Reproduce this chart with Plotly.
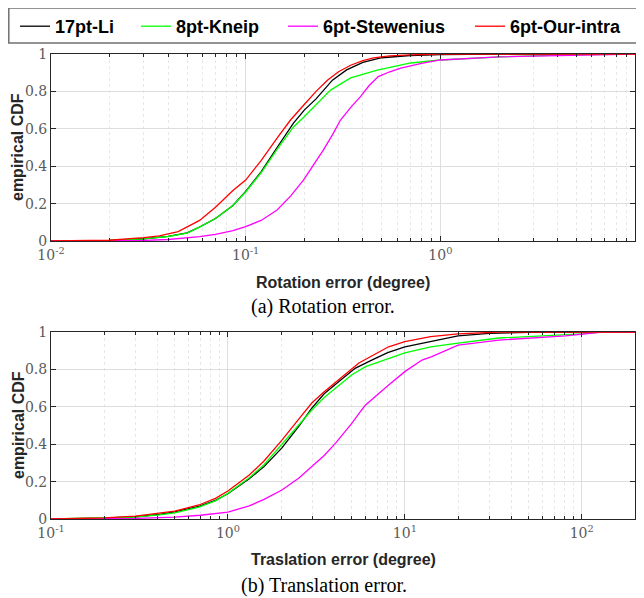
import plotly.graph_objects as go
import numpy as np

# ---------------- Data ----------------
series_names = ["17pt-Li", "8pt-Kneip", "6pt-Stewenius", "6pt-Our-intra"]
series_colors = ["#000000", "#00ff00", "#ff00ff", "#ff0000"]

# (a) Rotation error
rot_li_x = [0.01, 0.02, 0.03, 0.04, 0.05, 0.058, 0.07, 0.086, 0.1, 0.12, 0.145, 0.176, 0.2, 0.23, 0.279, 0.33, 0.4, 0.5, 0.7, 1.0, 2.0, 10]
rot_li_y = [0.0, 0.003, 0.012, 0.025, 0.043, 0.075, 0.12, 0.19, 0.265, 0.37, 0.5, 0.63, 0.70, 0.76, 0.86, 0.915, 0.955, 0.98, 0.992, 0.997, 1.0, 1.0]

rot_kneip_x = [0.01, 0.02, 0.03, 0.04, 0.05, 0.058, 0.07, 0.086, 0.1, 0.12, 0.145, 0.176, 0.198, 0.23, 0.273, 0.346, 0.474, 0.705, 1.0, 2.05, 4.5, 10]
rot_kneip_y = [0.0, 0.003, 0.011, 0.024, 0.042, 0.074, 0.12, 0.19, 0.262, 0.365, 0.49, 0.61, 0.66, 0.73, 0.807, 0.872, 0.914, 0.952, 0.968, 0.985, 0.995, 1.0]

rot_stew_x = [0.01, 0.02, 0.03, 0.04, 0.05, 0.058, 0.07, 0.086, 0.1, 0.12, 0.145, 0.17, 0.198, 0.225, 0.251, 0.28, 0.307, 0.35, 0.389, 0.43, 0.48, 0.55, 0.626, 0.8, 1.0, 2.0, 4.0, 8.0, 10]
rot_stew_y = [0.0, 0.0, 0.003, 0.008, 0.015, 0.023, 0.035, 0.055, 0.077, 0.11, 0.166, 0.24, 0.326, 0.41, 0.487, 0.57, 0.647, 0.72, 0.772, 0.83, 0.879, 0.905, 0.925, 0.95, 0.968, 0.985, 0.993, 0.998, 1.0]

rot_our_x = [0.01, 0.02, 0.03, 0.036, 0.045, 0.058, 0.07, 0.086, 0.1, 0.12, 0.145, 0.17, 0.2, 0.23, 0.263, 0.3, 0.346, 0.4, 0.454, 0.55, 0.7, 1.0, 2.0, 10]
rot_our_y = [0.0, 0.004, 0.018, 0.027, 0.05, 0.11, 0.18, 0.27, 0.326, 0.43, 0.55, 0.647, 0.73, 0.80, 0.86, 0.905, 0.94, 0.965, 0.979, 0.99, 0.995, 0.999, 1.0, 1.0]

# (b) Translation error
tr_li_x = [0.1, 0.2, 0.3, 0.41, 0.5, 0.685, 0.85, 1.0, 1.32, 1.6, 2.02, 2.52, 2.98, 3.5, 4.24, 5.26, 6.5, 8.0, 10, 15, 20, 30, 50, 100, 200]
tr_li_y = [0.0, 0.005, 0.012, 0.025, 0.038, 0.068, 0.10, 0.135, 0.215, 0.28, 0.38, 0.497, 0.593, 0.67, 0.735, 0.807, 0.85, 0.89, 0.921, 0.955, 0.979, 0.993, 0.998, 1.0, 1.0]

tr_kneip_x = [0.1, 0.2, 0.3, 0.41, 0.5, 0.685, 0.85, 1.0, 1.32, 1.6, 2.02, 2.52, 2.98, 3.5, 4.06, 5.0, 6.0, 8.0, 10, 14, 20, 34, 60, 100, 130, 200]
tr_kneip_y = [0.0, 0.004, 0.01, 0.022, 0.033, 0.063, 0.097, 0.137, 0.22, 0.29, 0.40, 0.50, 0.583, 0.65, 0.70, 0.77, 0.815, 0.855, 0.888, 0.92, 0.941, 0.968, 0.98, 0.99, 1.0, 1.0]

tr_stew_x = [0.1, 0.3, 0.5, 0.7, 1.0, 1.32, 1.6, 2.02, 2.52, 2.98, 3.5, 4.06, 5.0, 5.7, 6.0, 8.1, 10, 12.5, 14.2, 20, 34, 81, 100, 130, 200]
tr_stew_y = [0.0, 0.003, 0.01, 0.02, 0.037, 0.07, 0.105, 0.155, 0.219, 0.28, 0.34, 0.406, 0.51, 0.583, 0.61, 0.717, 0.788, 0.85, 0.868, 0.93, 0.957, 0.979, 0.99, 1.0, 1.0]

tr_our_x = [0.1, 0.2, 0.3, 0.41, 0.5, 0.685, 0.85, 1.0, 1.32, 1.6, 2.02, 2.52, 2.98, 3.5, 4.06, 5.5, 8.1, 10, 14, 20, 34, 200]
tr_our_y = [0.0, 0.006, 0.015, 0.03, 0.042, 0.075, 0.11, 0.15, 0.235, 0.31, 0.422, 0.535, 0.62, 0.68, 0.73, 0.834, 0.921, 0.948, 0.975, 0.99, 1.0, 1.0]

rot_series = [(rot_li_x, rot_li_y), (rot_kneip_x, rot_kneip_y), (rot_stew_x, rot_stew_y), (rot_our_x, rot_our_y)]
tr_series = [(tr_li_x, tr_li_y), (tr_kneip_x, tr_kneip_y), (tr_stew_x, tr_stew_y), (tr_our_x, tr_our_y)]

rot_ticks = [0.01, 0.1, 1, 10]
rot_ticktext = ["10<sup>-2</sup>", "10<sup>-1</sup>", "10<sup>0</sup>", "10<sup>1</sup>"]
tr_ticks = [0.1, 1, 10, 100]
tr_ticktext = ["10<sup>-1</sup>", "10<sup>0</sup>", "10<sup>1</sup>", "10<sup>2</sup>"]
y_ticks = [0, 0.2, 0.4, 0.6, 0.8, 1]
y_ticktext = ["0", "0.2", "0.4", "0.6", "0.8", "1"]

# ---------------- Figure ----------------
# The page body has an 8px margin, so the figure is 8px smaller on each side
OFF = 8
W, H = 644 - OFF, 598 - OFF
def PX(x):  # screen x -> paper fraction
    return (x - OFF) / W
def PY(y):  # screen y -> paper fraction
    return 1 - (y - OFF) / H

legend_ids = ["legend", "legend2", "legend3", "legend4"]
legend_text_x = [55, 176, 323, 510]

fig = go.Figure()
for i, (name, col) in enumerate(zip(series_names, series_colors)):
    x, y = rot_series[i]
    fig.add_trace(go.Scatter(x=x, y=y, mode="lines", name=name, line=dict(color=col, width=1.3),
                             xaxis="x", yaxis="y", legendgroup=name, showlegend=True,
                             legend=legend_ids[i]))
for i, (name, col) in enumerate(zip(series_names, series_colors)):
    x, y = tr_series[i]
    fig.add_trace(go.Scatter(x=x, y=y, mode="lines", name=name, line=dict(color=col, width=1.3),
                             xaxis="x2", yaxis="y2", legendgroup=name, showlegend=False))

def minor_vals(lo_exp, hi):
    vals = []
    e = lo_exp
    while 10 ** e < hi:
        for m in range(2, 10):
            v = m * 10 ** e
            if v < hi:
                vals.append(v)
        e += 1
    return vals

tick_font = dict(family="DejaVu Serif, serif", size=14, color="#5a5a5a")

def xaxis_cfg(rng, tv, tt, minors):
    return dict(type="log", range=rng, tickmode="array", tickvals=tv, ticktext=tt,
                ticks="inside", ticklen=5, tickcolor="#262626", tickwidth=1,
                showline=True, linecolor="#262626", linewidth=1, mirror="ticks",
                showgrid=True, gridcolor="#dedede", gridwidth=1, automargin=False,
                ticklabelstandoff=1,
                minor=dict(tickmode="array", tickvals=minors, ticks="inside", ticklen=3,
                           tickcolor="#262626", showgrid=True, gridcolor="#e8e8e8",
                           griddash="dot", gridwidth=1),
                tickfont=tick_font, zeroline=False, fixedrange=True)

def yaxis_cfg():
    return dict(range=[0, 1], tickmode="array", tickvals=y_ticks, ticktext=y_ticktext,
                ticks="inside", ticklen=5, tickcolor="#262626", automargin=False,
                showline=True, linecolor="#262626", linewidth=1, mirror="ticks",
                showgrid=True, gridcolor="#dedede", gridwidth=1,
                tickfont=tick_font, zeroline=False, fixedrange=True)

legend_font = dict(family="Liberation Sans, Arial, sans-serif", size=18, color="#000000", weight="bold")
layout_legends = {}
for lid, tx in zip(legend_ids, legend_text_x):
    layout_legends[lid] = dict(orientation="h", x=PX(tx - 40), y=PY(8), xanchor="left", yanchor="top",
                               bgcolor="rgba(0,0,0,0)", borderwidth=0, font=legend_font,
                               itemwidth=30, tracegroupgap=0)

fig.update_layout(
    width=W, height=H,
    margin=dict(l=0, r=0, t=0, b=0, autoexpand=False),
    paper_bgcolor="white", plot_bgcolor="white",
    xaxis=dict(domain=[PX(51), PX(635)], anchor="y", **xaxis_cfg([-2, 1], rot_ticks, rot_ticktext, minor_vals(-2, 10))),
    yaxis=dict(domain=[PY(241), PY(54)], anchor="x", **yaxis_cfg()),
    xaxis2=dict(domain=[PX(51), PX(635)], anchor="y2", **xaxis_cfg([-1, np.log10(200)], tr_ticks, tr_ticktext, minor_vals(-1, 200))),
    yaxis2=dict(domain=[PY(519), PY(332)], anchor="x2", **yaxis_cfg()),
    showlegend=True,
    shapes=[dict(type="rect", xref="paper", yref="paper", x0=PX(8.8), x1=PX(637), y0=PY(43), y1=PY(8),
                 line=dict(color="#707070", width=1.5), fillcolor="rgba(0,0,0,0)", layer="above")],
    **layout_legends,
)

ann = []
def add_text(text, x, y, font, angle=0):
    ann.append(dict(text=text, x=PX(x), y=PY(y), xref="paper", yref="paper",
                    showarrow=False, font=font, textangle=angle, xanchor="center", yanchor="middle"))

bold = dict(family="Liberation Sans, Arial, sans-serif", size=16, color="#262626")
cap = dict(family="Liberation Serif, Times New Roman, serif", size=20, color="#000000")
add_text("<b>empirical CDF</b>", 18, 147, bold, -90)
add_text("<b>empirical CDF</b>", 18, 425, bold, -90)
add_text("<b>Rotation error (degree)</b>", 343, 282, bold)
add_text("<b>Traslation error (degree)</b>", 343, 559, bold)
add_text("(a) Rotation error.", 323, 306, cap)
add_text("(b) Translation error.", 324, 585, cap)
fig.update_layout(annotations=ann)

fig.write_html("out.html")
